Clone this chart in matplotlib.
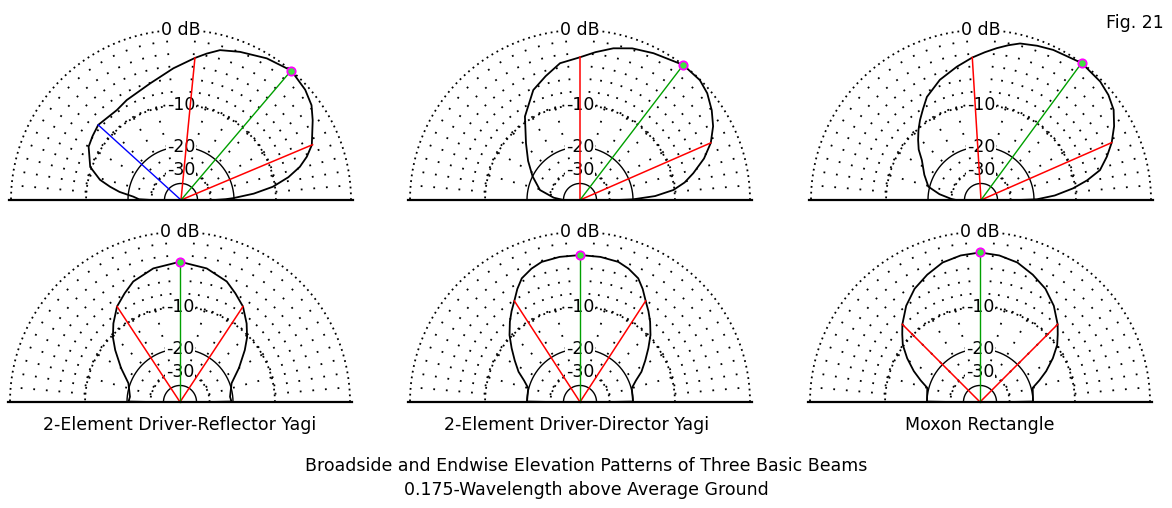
import numpy as np
import matplotlib
matplotlib.use("Agg")
import matplotlib.pyplot as plt

# elevation angle (deg) / gain (dB)
# top row: endwise patterns
refl_end_ang = [0, 1, 2, 5, 8.2, 12, 15.6, 19, 22.8, 31.2, 36, 41.6, 49.6, 58.8, 68.3, 75.4, 80,
                84.4, 93.3, 104.9, 118.5, 125.5, 137.8, 144, 150, 160, 166, 169.4, 172.5, 176, 179, 180]
refl_end_db = [-28, -23, -20.3, -14.5, -10.4, -7.5, -5.5, -4.2, -3.1, -1.7, -0.9, -0.4, 0, -0.45,
               -1.1, -1.6, -2.3, -3.0, -4.35, -5.9, -6.9, -7.4, -7.2, -7.6, -8.0, -9.7, -12.2,
               -14.7, -17.3, -21.8, -24, -30]
dir_end_ang = [0, 0.7, 3, 6.1, 9.5, 13.3, 18.5, 23.6, 29, 34.3, 40, 45, 52.6, 63.4, 71, 77.6, 84,
               90, 98.3, 105.5, 113, 123.4, 133.6, 143, 153.5, 166, 175, 180]
dir_end_db = [-26, -20, -14.0, -10.2, -8.1, -6.5, -4.5, -3.0, -1.9, -1.1, -0.4, -0.05, 0, -0.6,
              -1.0, -1.55, -2.3, -3.0, -3.55, -4.8, -6.05, -9.1, -13.3, -16.5, -20, -24.3, -32, -40]
mox_end_ang = [0, 0.7, 3.5, 7.2, 10.5, 14.1, 19, 23.7, 29, 34.2, 39.5, 44.8, 53.7, 64.3, 70, 76,
               80, 84.1, 88.5, 93.5, 100.3, 108.9, 117.7, 122.5, 127.3, 131.8, 136.3, 141, 146,
               156, 165.8, 172, 178, 180]
mox_end_db = [-26, -19.1, -14.3, -10.4, -7.8, -5.6, -4.2, -3.0, -1.9, -1.0, -0.5, -0.2, 0, -0.35,
              -0.6, -0.9, -1.35, -1.85, -2.4, -3.0, -3.9, -5.0, -6.5, -7.8, -9.0, -10.2, -11.5,
              -12.9, -14.9, -17.3, -19.6, -24, -30, -33]

# bottom row: broadside patterns
refl_side_ang = [0, 0.5, 6, 20, 30, 38.7, 44, 49.7, 56.6, 63, 68.8, 78.7, 90, 101.3, 111.2, 117,
                 123.4, 130.3, 136, 141.3, 150, 160, 174, 179.5, 180]
refl_side_db = [-30, -20.5, -20.9, -19.4, -15.7, -12.3, -10.3, -8.6, -6.8, -5.7, -4.7, -3.8, -3.3,
                -3.8, -4.7, -5.7, -6.8, -8.6, -10.3, -12.3, -15.7, -19.4, -20.9, -20.5, -30]
dir_side_ang = [0, 0.5, 15, 21, 26.2, 32.5, 38.2, 43.5, 48.9, 53, 57, 61, 64.8, 70, 74.7, 82, 90,
                98, 105.3, 110, 115.2, 119, 123, 127, 131.1, 136.5, 141.8, 147.5, 153.8, 159, 165,
                179.5, 180]
dir_side_db = [-30, -20, -19.8, -17.9, -15.6, -13.5, -11.5, -9.6, -8.0, -6.9, -5.9, -4.7, -3.74,
               -3.1, -2.7, -2.55, -2.5, -2.55, -2.7, -3.1, -3.74, -4.7, -5.9, -6.9, -8.0, -9.6,
               -11.5, -13.5, -15.6, -17.9, -19.8, -20, -30]
mox_side_ang = [0, 0.5, 15, 20, 25, 31, 36.5, 41, 45, 52.5, 60, 67.5, 75, 82.5, 90, 97.5, 105,
                112.5, 120, 127.5, 135, 139, 143.5, 149, 155, 160, 165, 179.5, 180]
mox_side_db = [-30, -20, -19.5, -17.0, -14.5, -11.9, -9.8, -8.6, -7.5, -5.8, -4.5, -3.6, -2.8,
               -2.4, -2.2, -2.4, -2.8, -3.6, -4.5, -5.8, -7.5, -8.6, -9.8, -11.9, -14.5, -17.0,
               -19.5, -20, -30]

# half-power (red) marker lines, max-gain (green) marker, back (blue) marker
refl_end_hp = [22.8, 84.4]
refl_end_hp_db = [-3.0, -3.0]
dir_end_hp = [23.6, 90]
dir_end_hp_db = [-3.0, -3.0]
mox_end_hp = [23.7, 93.5]
mox_end_hp_db = [-3.0, -3.0]
refl_side_hp = [56.6, 123.4]
refl_side_hp_db = [-6.8, -6.8]
dir_side_hp = [57, 123]
dir_side_hp_db = [-5.9, -5.9]
mox_side_hp = [45, 135]
mox_side_hp_db = [-7.5, -7.5]

refl_end_max = (49.6, 0.0)
dir_end_max = (52.6, 0.0)
mox_end_max = (53.7, 0.0)
refl_side_max = (90, -3.3)
dir_side_max = (90, -2.5)
mox_side_max = (90, -2.2)
refl_end_back = (137.8, -7.2)

captions = ["2-Element Driver-Reflector Yagi", "2-Element Driver-Director Yagi", "Moxon Rectangle"]
ring_labels = {0: "0 dB", -10: "-10", -20: "-20", -30: "-30"}


def arrl(db):
    # ARRL log scale: radius = 0.89 ** (-dB / 2)
    return 0.89 ** (-np.asarray(db, dtype=float) / 2.0)


def pol(ang, r):
    t = np.radians(np.asarray(ang, dtype=float))
    r = np.asarray(r, dtype=float)
    return r * np.cos(t), r * np.sin(t)


W, H = 1172, 508
R = 170
plt.rcParams['font.family'] = 'DejaVu Sans'
FS = 12.5

fig = plt.figure(figsize=(W / 100, H / 100), dpi=100)


def make_panel(cx, base_y):
    ax = fig.add_axes([(cx - R) / W, (H - base_y) / H, 2 * R / W, R / H])
    ax.set_xlim(-1, 1)
    ax.set_ylim(0, 1)
    ax.set_axis_off()

    th = np.linspace(0, 180, 721)
    for lev in [0, -10, -30]:
        ax.plot(*pol(th, arrl(lev)), color='black', lw=1.3, ls=(0, (1, 2.2)), clip_on=False, zorder=1)
    for lev in [-20, -40]:
        ax.plot(*pol(th, arrl(lev)), color='black', lw=1.0, clip_on=False, zorder=1)
    for a in range(5, 180, 5):
        if a == 90:
            continue
        ax.plot(*pol([a, a], arrl([-10, 0])), color='black', lw=1.3, ls=(0, (1, 6)),
                clip_on=False, zorder=1)
    for a in range(15, 180, 15):
        if a == 90:
            continue
        ax.plot(*pol([a, a], arrl([-30, -10])), color='black', lw=1.3, ls=(0, (1, 6)),
                clip_on=False, zorder=1)
    # ground line
    ax.plot([-1.01, 1.01], [0, 0], color='black', lw=1.6, clip_on=False, zorder=4)
    for lev, lab in ring_labels.items():
        ax.text(0, arrl(lev), lab, ha='center', va='center', fontsize=FS, zorder=2,
                bbox=dict(facecolor='white', edgecolor='none', pad=0.3))
    return ax


def draw_pattern(ax, ang, db, hp, hp_db, mx, back=None):
    ax.plot(*pol(ang, arrl(db)), color='black', lw=1.3, clip_on=False, zorder=3)
    for a, d in zip(hp, hp_db):
        ax.plot(*pol([a, a], [0, arrl(d)]), color='red', lw=1.1, clip_on=False, zorder=3)
    if back is not None:
        ax.plot(*pol([back[0]] * 2, [0, arrl(back[1])]), color='blue', lw=1.0, clip_on=False, zorder=3)
    ax.plot(*pol([mx[0]] * 2, [0, arrl(mx[1])]), color='#00a000', lw=1.0, clip_on=False, zorder=3)
    ax.plot(*pol([mx[0]], [arrl(mx[1])]), 'o', ms=6, mfc='#40e040', mec='#ff00ff', mew=1.3,
            clip_on=False, zorder=5)


top_x = [181, 580, 981]
bot_x = [180, 580, 980]

ax = make_panel(top_x[0], 200)
draw_pattern(ax, refl_end_ang, refl_end_db, refl_end_hp, refl_end_hp_db, refl_end_max, refl_end_back)
ax = make_panel(top_x[1], 200)
draw_pattern(ax, dir_end_ang, dir_end_db, dir_end_hp, dir_end_hp_db, dir_end_max)
ax = make_panel(top_x[2], 200)
draw_pattern(ax, mox_end_ang, mox_end_db, mox_end_hp, mox_end_hp_db, mox_end_max)

ax = make_panel(bot_x[0], 402)
draw_pattern(ax, refl_side_ang, refl_side_db, refl_side_hp, refl_side_hp_db, refl_side_max)
ax = make_panel(bot_x[1], 402)
draw_pattern(ax, dir_side_ang, dir_side_db, dir_side_hp, dir_side_hp_db, dir_side_max)
ax = make_panel(bot_x[2], 402)
draw_pattern(ax, mox_side_ang, mox_side_db, mox_side_hp, mox_side_hp_db, mox_side_max)

for cx, cap in zip([180, 577, 980], captions):
    fig.text(cx / W, 1 - 425 / H, cap, ha='center', va='center', fontsize=FS)

fig.text(586 / W, 1 - 466 / H, "Broadside and Endwise Elevation Patterns of Three Basic Beams",
         ha='center', va='center', fontsize=FS)
fig.text(586 / W, 1 - 490 / H, "0.175-Wavelength above Average Ground",
         ha='center', va='center', fontsize=FS)
fig.text(1135 / W, 1 - 23 / H, "Fig. 21", ha='center', va='center', fontsize=FS)

fig.savefig("out.png", dpi=100)
